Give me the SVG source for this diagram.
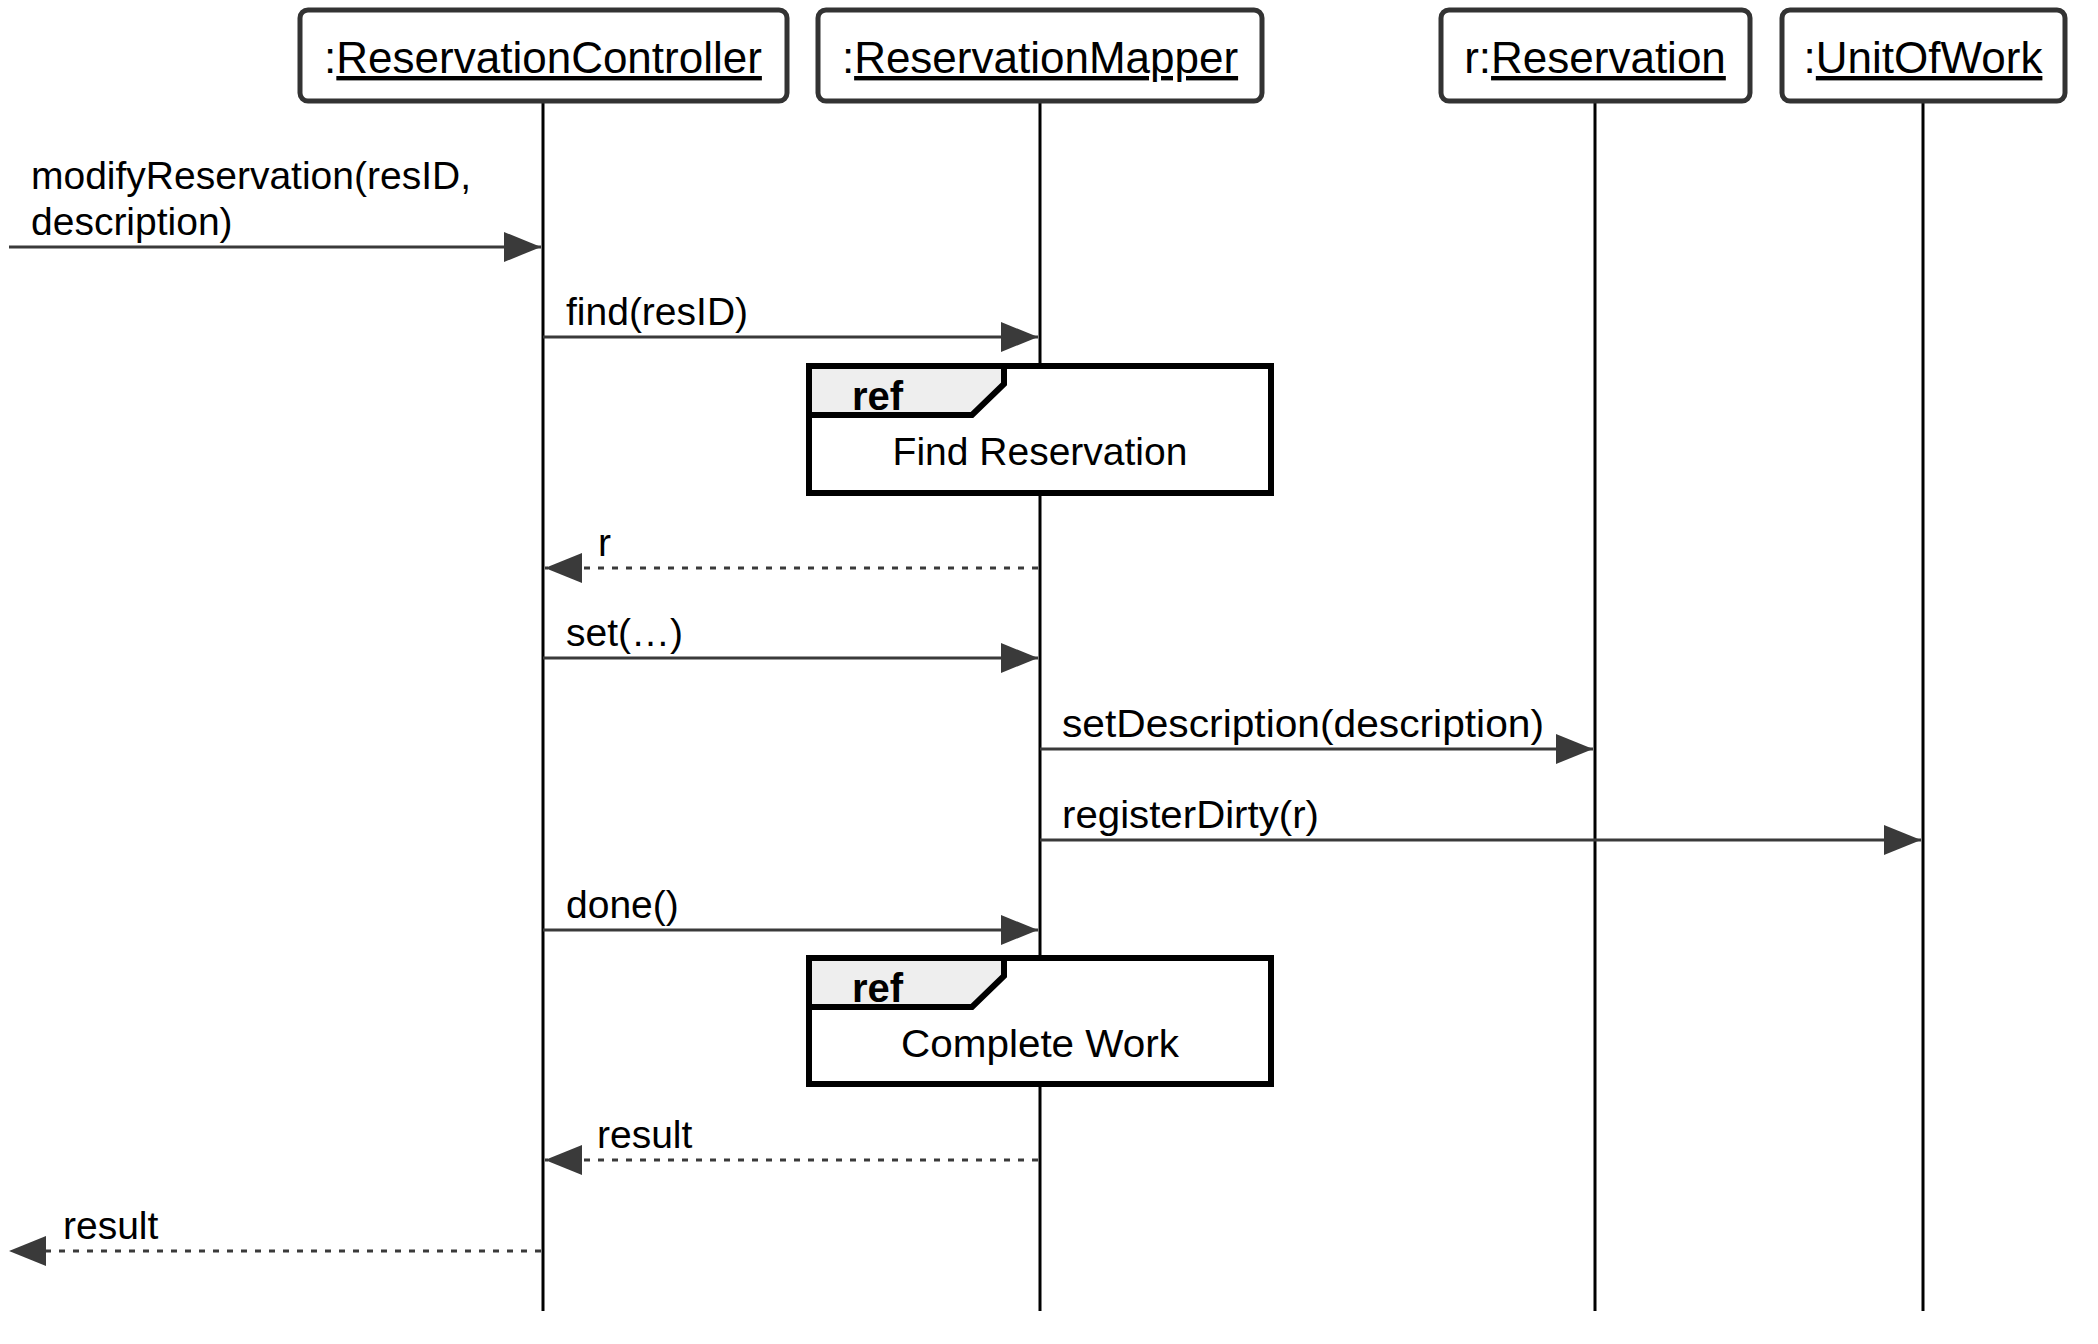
<svg xmlns="http://www.w3.org/2000/svg" width="2098" height="1344" viewBox="0 0 2098 1344">
  <style>
    .head { fill: #ffffff; stroke: #333333; stroke-width: 5; }
    .title { font-family: "Liberation Sans", Arial, sans-serif; font-size: 44px; fill: #000000; text-anchor: middle; }
    .u { text-decoration: underline; }
    .life { stroke: #000000; stroke-width: 3; fill: none; }
    .msg { stroke: #3a3a3a; stroke-width: 3; fill: none; marker-end: url(#arrow); }
    .ret { stroke: #3a3a3a; stroke-width: 3; fill: none; stroke-dasharray: 6 8; marker-end: url(#arrow); }
    .lbl { font-family: "Liberation Sans", Arial, sans-serif; font-size: 39px; fill: #000000; }
    .frame { fill: #ffffff; stroke: #000000; stroke-width: 6; }
    .tab { fill: #eeeeee; stroke: #000000; stroke-width: 6; stroke-linejoin: miter; }
    .refkw { font-family: "Liberation Sans", Arial, sans-serif; font-size: 40px; font-weight: bold; fill: #000000; }
    .refname { font-family: "Liberation Sans", Arial, sans-serif; font-size: 39px; fill: #000000; text-anchor: middle; }
  </style>
  <defs>
    <marker id="arrow" markerUnits="userSpaceOnUse" markerWidth="38" markerHeight="30" refX="37" refY="15" orient="auto">
      <path d="M0,0 L37,15 L0,30 Z" fill="#3a3a3a" stroke="none"/>
    </marker>
  </defs>

  <rect width="2098" height="1344" fill="#ffffff"/>

  <!-- lifelines -->
  <g id="lifelines">
    <line class="life" x1="543" y1="101" x2="543" y2="1311"/>
    <line class="life" x1="1040" y1="101" x2="1040" y2="1311"/>
    <line class="life" x1="1595" y1="101" x2="1595" y2="1311"/>
    <line class="life" x1="1923" y1="101" x2="1923" y2="1311"/>
  </g>

  <!-- participant heads -->
  <g id="reservationController">
    <rect class="head" x="300" y="10" width="487" height="91" rx="8"/>
    <text class="title" x="543" y="73">:<tspan class="u">ReservationController</tspan></text>
  </g>
  <g id="reservationMapper">
    <rect class="head" x="818" y="10" width="444" height="91" rx="8"/>
    <text class="title" x="1040" y="73">:<tspan class="u">ReservationMapper</tspan></text>
  </g>
  <g id="reservation">
    <rect class="head" x="1441" y="10" width="309" height="91" rx="8"/>
    <text class="title" x="1595" y="73">r:<tspan class="u">Reservation</tspan></text>
  </g>
  <g id="unitOfWork">
    <rect class="head" x="1782" y="10" width="283" height="91" rx="8"/>
    <text class="title" x="1923" y="73">:<tspan class="u">UnitOfWork</tspan></text>
  </g>

  <!-- interaction uses -->
  <g id="refFindReservation">
    <rect class="frame" x="809" y="366" width="462" height="127"/>
    <path class="tab" d="M809,366 L1004,366 L1004,384 L972,415 L809,415 Z"/>
    <text class="refkw" x="852" y="410">ref</text>
    <text class="refname" x="1040" y="465">Find Reservation</text>
  </g>
  <g id="refCompleteWork">
    <rect class="frame" x="809" y="958" width="462" height="126"/>
    <path class="tab" d="M809,958 L1004,958 L1004,976 L972,1007 L809,1007 Z"/>
    <text class="refkw" x="852" y="1002">ref</text>
    <text class="refname" x="1040" y="1057" textLength="278" lengthAdjust="spacingAndGlyphs">Complete Work</text>
  </g>

  <!-- messages -->
  <g id="messages">
    <line class="msg" x1="9" y1="247" x2="541" y2="247"/>
    <text class="lbl" x="31" y="189">modifyReservation(resID,</text>
    <text class="lbl" x="31" y="235">description)</text>

    <line class="msg" x1="543" y1="337" x2="1038" y2="337"/>
    <text class="lbl" x="566" y="325">find(resID)</text>

    <line class="ret" x1="1038" y1="568" x2="545" y2="568"/>
    <text class="lbl" x="598" y="556">r</text>

    <line class="msg" x1="543" y1="658" x2="1038" y2="658"/>
    <text class="lbl" x="566" y="646">set(…)</text>

    <line class="msg" x1="1040" y1="749" x2="1593" y2="749"/>
    <text class="lbl" x="1062" y="737" textLength="482" lengthAdjust="spacingAndGlyphs">setDescription(description)</text>

    <line class="msg" x1="1040" y1="840" x2="1921" y2="840"/>
    <text class="lbl" x="1062" y="828" textLength="257" lengthAdjust="spacingAndGlyphs">registerDirty(r)</text>

    <line class="msg" x1="543" y1="930" x2="1038" y2="930"/>
    <text class="lbl" x="566" y="918">done()</text>

    <line class="ret" x1="1038" y1="1160" x2="545" y2="1160"/>
    <text class="lbl" x="597" y="1148">result</text>

    <line class="ret" x1="541" y1="1251" x2="9" y2="1251"/>
    <text class="lbl" x="63" y="1239">result</text>
  </g>
</svg>
